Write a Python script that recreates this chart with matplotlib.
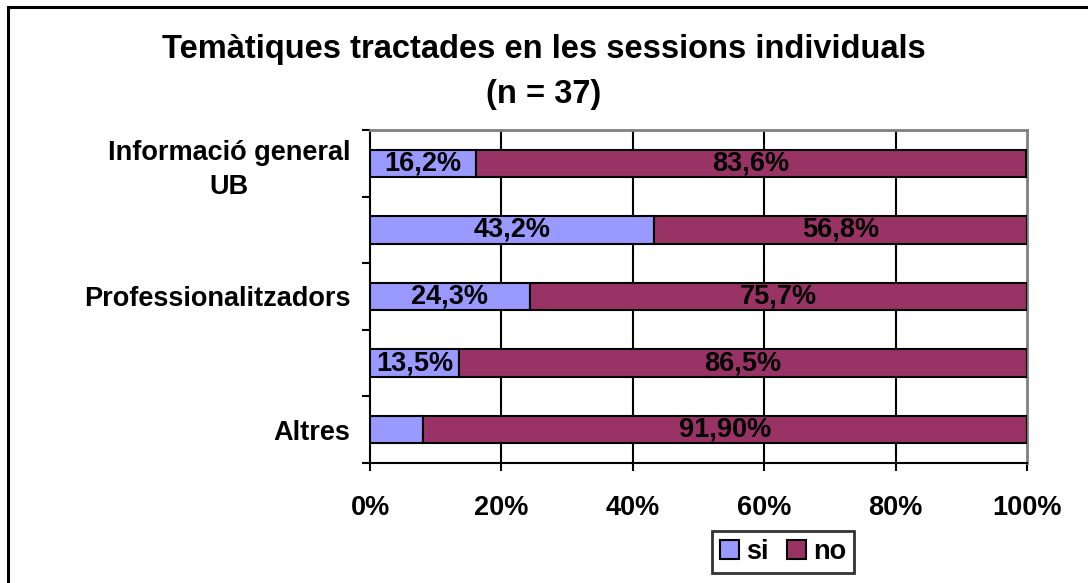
import matplotlib
matplotlib.use("Agg")
import matplotlib.pyplot as plt
from matplotlib.patches import Rectangle, Patch
import numpy as np

plt.rcParams['font.family'] = ['Liberation Sans', 'DejaVu Sans']

categories = ["Informació general\nUB", "", "Professionalitzadors", "", "Altres"]
si_values = [16.2, 43.2, 24.3, 13.5, 8.1]
no_values = [83.6, 56.8, 75.7, 86.5, 91.9]
si_labels = ["16,2%", "43,2%", "24,3%", "13,5%", ""]
no_labels = ["83,6%", "56,8%", "75,7%", "86,5%", "91,90%"]
x_ticks = [0, 20, 40, 60, 80, 100]
x_ticklabels = ["0%", "20%", "40%", "60%", "80%", "100%"]
title = "Temàtiques tractades en les sessions individuals\n(n = 37)"

c_si = "#9999FF"
c_no = "#993366"
fs = 19.5

fig = plt.figure(figsize=(10.88, 5.83), dpi=100)
ax = fig.add_axes([370/1088, 1-463/583, (1027-370)/1088, (463-130)/583])

n = len(categories)
ypos = np.arange(n)[::-1]
h = 0.41
ax.barh(ypos, si_values, height=h, color=c_si, edgecolor="black", linewidth=1.5, zorder=3, label="si")
ax.barh(ypos, no_values, left=si_values, height=h, color=c_no, edgecolor="black", linewidth=1.5, zorder=3, label="no")

for y, s, nv, sl, nl in zip(ypos, si_values, no_values, si_labels, no_labels):
    if sl:
        ax.text(s/2, y, sl, ha="center", va="center", fontsize=fs, fontweight="bold", zorder=4)
    if nl:
        ax.text(s + nv/2, y, nl, ha="center", va="center", fontsize=fs, fontweight="bold", zorder=4)

ax.set_xlim(0, 100)
ax.set_ylim(-0.5, n-0.5)
ax.set_xticks(x_ticks)
ax.set_xticklabels(x_ticklabels, fontsize=fs, fontweight="bold")
ax.set_yticks(ypos)
ax.set_yticklabels(categories, fontsize=fs, fontweight="bold", ha="right", multialignment="center",
                   linespacing=1.4)
ax.tick_params(axis="y", length=0, pad=14)
ax.set_yticks(np.arange(-0.5, n, 1.0), minor=True)
ax.tick_params(axis="y", which="minor", length=6, width=1.5, direction="out")
ax.tick_params(axis="x", length=6, width=1.5, direction="out", pad=17)

for xv in x_ticks[1:-1]:
    ax.axvline(xv, color="black", linewidth=1.5, zorder=1)

for s in ["top", "right"]:
    ax.spines[s].set_color("#808080")
    ax.spines[s].set_linewidth(2)
for s in ["left", "bottom"]:
    ax.spines[s].set_color("black")
    ax.spines[s].set_linewidth(1.5)

fig.text(0.5, 1-72/583, title, ha="center", va="center", fontsize=23.5, fontweight="bold", linespacing=1.55)

handles = [Patch(facecolor=c_si, edgecolor="black", linewidth=1.5),
           Patch(facecolor=c_no, edgecolor="black", linewidth=1.5)]
leg = fig.legend(handles, ["si", "no"], loc="center", bbox_to_anchor=(783/1088, 1-552/583),
                 ncol=2, frameon=True, fancybox=False, prop={"weight": "bold", "size": fs},
                 handlelength=0.7, handleheight=0.7, handletextpad=0.25, columnspacing=0.7,
                 borderpad=0.3, borderaxespad=0)
leg.get_frame().set_edgecolor("black")
leg.get_frame().set_linewidth(2)

fig.patches.append(Rectangle((8/1088, -0.1), 1.2, 1 - 7/583 + 0.1, transform=fig.transFigure,
                             fill=False, edgecolor="black", linewidth=2.2))

fig.savefig("out.png", dpi=100)
